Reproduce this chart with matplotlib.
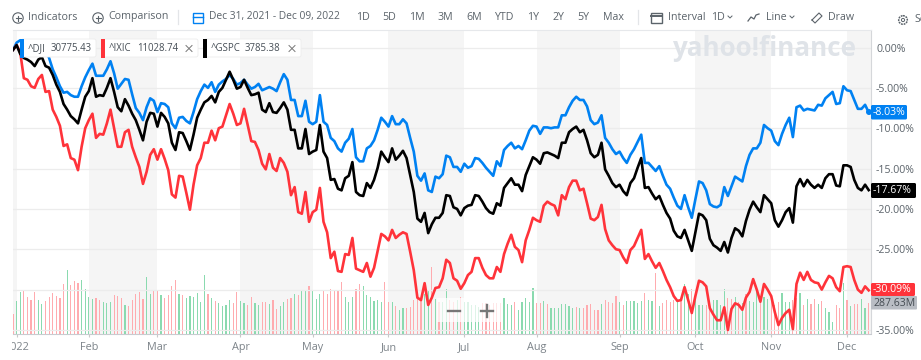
import numpy as np
import matplotlib
matplotlib.use('Agg')
import matplotlib.pyplot as plt
from matplotlib.patches import Circle, FancyBboxPatch, Rectangle

plt.rcParams['font.family'] = ['Open Sans', 'DejaVu Sans']

# percent change since Dec 31 2021, one value per trading day
dji = [-0.3, 0.6, 0.9, 0.4, 0.2, 0.1, -0.2, 0.4, 0.8, -0.1, -1.3, -2.7, -3.7, -4.8, -5.6, -5.5, -5.9, -6.1, -6.1, -4.8,
       -3.7, -2.8, -2.0, -3.5, -3.5, -3.5, -2.7, -1.7, -3.2, -5.1, -4.5, -3.9, -4.0, -5.8, -7.5, -8.1, -9.0, -7.4, -6.3, -6.6,
       -8.0, -6.9, -7.0, -7.4, -9.4, -10.0, -8.7, -8.6, -9.1, -9.4, -8.0, -6.4, -5.4, -4.6, -5.0, -4.3, -5.5, -4.6, -4.2, -3.9,
       -3.4, -3.9, -4.6, -4.4, -4.0, -4.6, -5.1, -4.9, -4.5, -5.3, -5.1, -4.9, -5.1, -5.4, -4.3, -3.3, -4.0, -6.5, -6.5, -8.5,
       -8.5, -6.6, -9.2, -9.5, -9.2, -5.9, -9.2, -9.6, -11.2, -11.6, -12.5, -12.9, -11.8, -11.3, -10.1, -13.6, -14.1, -14.1, -12.5, -12.2,
       -11.5, -10.2, -8.7, -9.2, -9.8, -8.5, -9.5, -9.5, -8.9, -9.4, -11.2, -12.9, -15.9, -16.5, -15.6, -17.7, -17.9, -16.0, -16.2, -15.7,
       -13.4, -13.6, -14.8, -14.8, -15.4, -14.4, -14.9, -14.7, -13.7, -13.8, -14.3, -14.9, -15.4, -15.9, -14.1, -14.7, -12.7, -12.2, -11.8, -12.5,
       -12.2, -12.6, -11.5, -10.3, -9.7, -9.8, -10.7, -9.9, -9.9, -10.0, -9.9, -9.9, -8.4, -8.4, -7.4, -6.6, -6.1, -6.5, -6.5, -7.3,
       -9.0, -9.5, -9.3, -8.4, -11.2, -11.8, -12.6, -13.2, -12.9, -13.7, -14.3, -13.3, -12.6, -11.7, -10.8, -14.3, -14.3, -14.8, -15.3, -14.7,
       -15.9, -17.0, -17.5, -18.6, -19.6, -20.0, -18.3, -19.8, -21.1, -18.8, -16.6, -16.8, -17.7, -19.4, -19.7, -19.8, -19.5, -17.3, -18.4, -17.2,
       -16.0, -16.3, -16.6, -14.7, -13.3, -12.5, -12.5, -11.8, -9.6, -10.0, -10.3, -11.6, -12.1, -10.7, -9.6, -8.7, -11.1, -7.4, -7.2, -7.8,
       -7.6, -7.7, -7.8, -7.1, -7.2, -6.3, -5.9, -5.5, -7.0, -6.9, -4.8, -5.3, -5.4, -6.5, -7.6, -7.6, -7.1, -8.03]

ixic = [-0.3, 0.3, -0.6, -3.8, -4.0, -4.8, -5.0, -3.9, -3.4, -5.5, -5.4, -7.7, -8.6, -9.7, -12.2, -12.0, -13.7, -13.9, -15.2, -12.3,
        -10.0, -9.0, -8.2, -11.2, -10.7, -10.8, -9.4, -7.7, -10.0, -12.3, -12.3, -10.5, -10.2, -12.3, -13.6, -14.8, -16.9, -15.4, -13.3, -12.6,
        -13.9, -12.6, -13.8, -15.2, -18.2, -18.6, -15.9, -16.0, -18.0, -20.1, -17.0, -14.6, -13.7, -11.8, -11.8, -10.3, -11.5, -10.0, -9.8, -8.4,
        -7.0, -8.2, -9.6, -9.4, -7.6, -9.6, -11.6, -11.7, -12.7, -14.4, -15.1, -13.2, -14.9, -15.3, -13.7, -14.3, -15.4, -18.3, -17.3, -20.4,
        -20.6, -17.9, -21.6, -20.4, -20.1, -17.4, -21.6, -22.9, -26.1, -25.3, -27.7, -27.8, -25.6, -25.7, -23.6, -27.4, -27.6, -27.8, -26.7, -28.4,
        -27.3, -25.2, -23.1, -23.4, -23.9, -22.6, -23.6, -23.2, -22.9, -23.1, -25.3, -27.6, -31.0, -31.3, -29.2, -31.9, -31.0, -29.8, -29.7, -28.6,
        -26.3, -26.7, -28.6, -28.9, -29.9, -29.2, -28.2, -27.8, -26.1, -26.1, -27.3, -28.2, -28.6, -28.6, -27.2, -27.8, -25.6, -24.3, -23.2, -24.7,
        -25.1, -26.6, -23.9, -22.6, -21.1, -21.4, -21.6, -19.6, -19.1, -19.4, -19.6, -20.8, -18.3, -18.8, -17.3, -16.5, -16.5, -17.7, -17.5, -19.3,
        -21.2, -21.4, -21.0, -19.5, -22.5, -23.9, -24.5, -25.0, -25.1, -26.0, -26.7, -25.1, -24.6, -23.6, -22.6, -26.2, -25.6, -26.5, -27.3, -26.7,
        -27.7, -28.8, -29.7, -30.8, -31.4, -31.3, -29.7, -31.3, -32.9, -30.8, -28.9, -29.1, -29.6, -32.3, -33.1, -33.8, -33.8, -32.2, -35.0, -32.4,
        -31.7, -31.9, -32.5, -31.0, -30.3, -28.7, -30.0, -31.5, -29.3, -30.0, -30.8, -32.8, -34.4, -33.5, -32.9, -32.5, -34.9, -29.3, -27.9, -28.8,
        -27.8, -28.8, -29.1, -29.2, -30.0, -29.1, -28.3, -28.6, -29.7, -30.2, -27.2, -27.1, -27.2, -28.8, -30.0, -30.4, -29.6, -30.09]

gspc = [-0.3, 0.3, -0.8, -1.3, -1.5, -1.8, -2.3, -1.5, -1.2, -2.3, -2.5, -3.4, -4.6, -5.5, -7.0, -7.7, -8.5, -8.9, -9.4, -7.7,
        -6.1, -5.4, -3.8, -6.1, -5.9, -6.0, -5.0, -3.8, -5.5, -7.4, -7.9, -6.4, -7.2, -8.2, -9.0, -10.2, -11.5, -9.2, -8.1, -8.2,
        -9.8, -8.1, -8.6, -9.4, -11.8, -12.7, -10.5, -10.6, -11.6, -12.7, -10.8, -8.7, -7.7, -6.8, -6.5, -6.0, -6.8, -5.5, -5.0, -4.0,
        -3.0, -4.0, -5.1, -4.9, -4.0, -5.0, -5.9, -5.8, -5.6, -7.7, -8.0, -6.9, -8.0, -8.1, -7.5, -6.8, -7.7, -10.2, -10.2, -12.5,
        -12.5, -10.1, -13.2, -12.9, -12.7, -9.6, -12.9, -13.7, -16.4, -16.3, -17.5, -17.7, -16.2, -15.9, -14.2, -17.9, -18.3, -18.4, -16.8, -17.4,
        -16.4, -14.9, -12.9, -13.6, -14.2, -12.5, -13.9, -13.4, -12.8, -13.7, -15.8, -17.9, -21.2, -21.6, -20.5, -23.0, -21.9, -21.1, -21.1, -20.5,
        -18.3, -18.4, -19.8, -20.0, -20.8, -19.9, -19.6, -19.5, -18.3, -18.4, -19.1, -19.9, -20.4, -20.6, -19.3, -19.6, -17.4, -16.8, -16.2, -17.0,
        -17.0, -17.8, -15.8, -14.7, -13.6, -13.9, -14.4, -13.1, -13.0, -13.2, -13.4, -13.7, -11.8, -11.8, -10.5, -10.1, -9.8, -10.5, -10.2, -11.5,
        -13.1, -13.6, -13.3, -11.8, -15.1, -15.9, -16.8, -17.3, -17.0, -17.8, -18.3, -16.8, -16.2, -14.9, -13.7, -17.4, -17.3, -18.1, -18.8, -18.4,
        -19.5, -20.5, -21.2, -22.7, -23.4, -23.6, -22.6, -23.9, -25.2, -22.9, -20.6, -20.8, -21.4, -23.7, -24.5, -24.8, -25.2, -24.1, -25.4, -23.6,
        -22.4, -22.7, -23.4, -21.5, -20.1, -19.1, -19.8, -20.4, -18.3, -18.8, -19.3, -21.4, -22.2, -21.4, -20.4, -19.9, -21.7, -17.2, -16.3, -17.2,
        -16.4, -17.0, -17.4, -17.0, -17.4, -16.2, -15.7, -15.7, -17.1, -17.2, -14.6, -14.6, -14.8, -16.4, -17.4, -17.7, -17.0, -17.67]

# volume in millions
volume = [188, 308, 389, 414, 345, 320, 389, 320, 276, 308, 345, 383, 355, 333, 471, 603, 458, 496, 477, 509,
          421, 345, 323, 336, 317, 295, 286, 301, 367, 358, 333, 270, 264, 317, 377, 389, 330, 534, 377, 399,
          399, 361, 333, 367, 446, 502, 377, 361, 333, 352, 345, 383, 301, 556, 371, 333, 308, 292, 257, 270,
          314, 286, 393, 308, 283, 270, 345, 283, 270, 301, 301, 276, 314, 232, 264, 301, 330, 336, 377, 361,
          408, 399, 452, 408, 327, 371, 408, 377, 421, 402, 414, 490, 345, 295, 345, 421, 465, 446, 361, 345,
          308, 317, 295, 484, 301, 301, 264, 226, 239, 239, 254, 320, 330, 330, 377, 408, 628, 330, 298, 298,
          421, 314, 298, 314, 345, 298, 298, 267, 267, 251, 283, 283, 267, 283, 283, 283, 339, 276, 270, 295,
          226, 295, 333, 295, 433, 289, 289, 308, 276, 239, 245, 245, 276, 276, 264, 245, 251, 245, 245, 270,
          276, 226, 226, 276, 314, 295, 283, 352, 301, 270, 308, 308, 308, 289, 308, 383, 320, 308, 571, 264,
          289, 314, 301, 314, 308, 330, 471, 371, 424, 345, 270, 270, 270, 251, 314, 320, 267, 421, 339, 327,
          345, 301, 289, 377, 308, 301, 393, 352, 345, 330, 330, 267, 298, 383, 301, 301, 314, 333, 383, 267,
          330, 276, 330, 276, 308, 245, 204, 110, 270, 245, 477, 320, 257, 276, 276, 323, 245, 288]

# r = down day, g = up day
vol_dir = ('rggrrrrggrrrrrrgrrrg' 'gggrrgggrrrgrrrrrggr' 'rgrrrrgrggggggrgrggg' 'grrggrrggrrgrrggrrgr'
           'ggrgggrrrrrrgggrrggg' 'gggrrgrggrrrrrggrgrg' 'grrgrgggggrrrrrrgggr' 'gggggrrgrgggggggrgrr'
           'rrrgrrrrgrgggggrggrg' 'rrrrgrggrgggrrggggrr' 'grgrgggrggrrrgggrrgr' 'grrgrgggrrgrgrrggr')

month_days = [1, 21, 40, 63, 83, 104, 125, 145, 168, 189, 210, 231]
month_labels = ['2022', 'Feb', 'Mar', 'Apr', 'May', 'Jun', 'Jul', 'Aug', 'Sep', 'Oct', 'Nov', 'Dec']
y_ticks = [0, -5, -10, -15, -20, -25, -30, -35]

BLUE = '#0081f2'
RED = '#ff333a'
GREY = '#5b636a'
W, H = 921, 360

days = np.arange(len(gspc))
fig = plt.figure(figsize=(W / 100, H / 100), dpi=100)
rect = [12.5 / W, 1 - 333.5 / H, 858 / W, 303.5 / H]

# three layers on the same rectangle: shading, volume, price lines
bg = fig.add_axes(rect, zorder=0)
bg.set_xlim(-0.14, 237.5)
bg.axis('off')
bg.axvspan(-0.14, 1, color='#f5f5f5', lw=0)
for a, b in [(21, 40), (63, 83), (104, 125), (145, 168), (189, 210), (231, 237.5)]:
    bg.axvspan(a, b, color='#f5f5f5', lw=0)

vax = fig.add_axes(rect, zorder=1)
vax.set_xlim(-0.14, 237.5)
vax.set_ylim(0, 303.5 * 9.43)
vax.axis('off')
colors = ['#ffabaf' if c == 'r' else '#8adaaf' for c in vol_dir]
vax.bar(days, volume, width=0.33, color=colors)

ax = fig.add_axes(rect, zorder=2)
ax.patch.set_visible(False)
ax.set_xlim(-0.14, 237.5)
ax.set_ylim(-35.44, 2.17)
ax.set_yticks(y_ticks)
ax.grid(axis='y', color='#ececec', lw=0.9)
ax.set_axisbelow(True)
ax.yaxis.tick_right()
ax.set_yticklabels(['%.2f%%' % v for v in y_ticks], color=GREY, fontsize=7.6)
ax.tick_params(axis='y', length=0, pad=4)
ax.set_xticks(month_days)
ax.set_xticklabels(month_labels, color='#7c8389', fontsize=7.8)
ax.tick_params(axis='x', length=2, color='#c8c8c8', pad=4)
ax.spines['left'].set_visible(False)
ax.spines['top'].set_color('#e6e8eb')
ax.spines['right'].set_color('#d5d7da')
ax.spines['bottom'].set_color('#c8cbd0')

ax.plot(days, dji, color=BLUE, lw=1.9, zorder=4)
ax.plot(days, ixic, color=RED, lw=1.9, zorder=5)
ax.plot(days, gspc, color='black', lw=1.9, zorder=6)

# everything around the plot, in pixel coordinates
ov = fig.add_axes([0, 0, 1, 1], zorder=10)
ov.set_xlim(0, W)
ov.set_ylim(H, 0)
ov.axis('off')
ov.add_patch(Rectangle((0, 0), 11.5, H, color='white', lw=0))

def txt(x, y, s, size=7.7, color=GREY, ha='left', **kw):
    ov.text(x, y, s, fontsize=size, color=color, ha=ha, va='center', **kw)

# toolbar
for cx in [18, 98]:
    ov.add_patch(Circle((cx, 18), 5.2, fill=False, ec=GREY, lw=0.8))
    ov.plot([cx - 2.5, cx + 2.5], [18, 18], color=GREY, lw=0.8)
    ov.plot([cx, cx], [15.5, 20.5], color=GREY, lw=0.8)
txt(28, 17, 'Indicators')
txt(108, 17, 'Comparison')
ov.plot([178, 178], [10, 24], color='#e3e5e8', lw=0.9)
ov.add_patch(Rectangle((193, 13), 10, 9.5, fill=False, ec=BLUE, lw=1))
ov.plot([193, 203], [16.5, 16.5], color=BLUE, lw=1)
txt(209, 17, 'Dec 31, 2021 - Dec 09, 2022', size=7.4)
for x, s in [(356, '1D'), (382, '5D'), (409, '1M'), (437, '3M'), (466, '6M'), (494, 'YTD'),
             (527, '1Y'), (552, '2Y'), (577, '5Y'), (603, 'Max')]:
    txt(x, 17, s)
ov.plot([638, 638], [10, 24], color='#e3e5e8', lw=0.9)
ov.add_patch(Rectangle((651, 13), 11, 9.5, fill=False, ec=GREY, lw=1))
ov.plot([651, 662], [15.5, 15.5], color=GREY, lw=1.4)
txt(668, 17, 'Interval')
txt(711, 17, '1D')
txt(766, 17, 'Line')
txt(828, 17, 'Draw')
for cx in [730, 792]:
    ov.plot([cx - 2, cx, cx + 2], [16, 18, 16], color=GREY, lw=0.7)
ov.plot([748, 751, 754, 756, 759], [21, 17, 19, 15, 14], color=GREY, lw=0.9)
ov.plot([812, 819, 822, 815, 812], [20, 13, 16, 23, 20], color=GREY, lw=0.8)
ov.add_patch(Circle((903, 20), 4.3, fill=False, ec=GREY, lw=1.1, ls=(0, (1.2, 0.6))))
ov.add_patch(Circle((903, 20), 1.6, fill=False, ec=GREY, lw=0.7))
txt(914, 20, 'Se')

# watermark
txt(672, 49, 'yahoo!finance', size=18.7, color='#dfe3e8', fontweight='bold')

# series chips
for x0, x1, c, name, vx, val in [(20, 97, BLUE, '^DJI', 51, '30775.43'), (101, 199, RED, '^IXIC', 137, '11028.74'),
                                 (203, 302, 'black', '^GSPC', 245, '3785.38')]:
    ov.add_patch(FancyBboxPatch((x0 + 1, 39), x1 - x0 - 2, 18, boxstyle='round,pad=0,rounding_size=2',
                                fc='white', ec='#ececec', lw=0.6))
    ov.add_patch(Rectangle((x0, 38.5), 3.6, 19.5, color=c, lw=0))
    txt(x0 + 8, 48.5, name, size=6.9, color='#464e56')
    txt(vx, 48.5, val, size=6.9, color='#464e56')
    if name != '^DJI':
        ov.plot([x1 - 13, x1 - 7], [45.5, 51.5], color='#777', lw=0.7)
        ov.plot([x1 - 13, x1 - 7], [51.5, 45.5], color='#777', lw=0.7)

# last value flags
ov.add_patch(Circle((869, 112), 3, color=BLUE, lw=0))
ov.add_patch(FancyBboxPatch((871, 105), 36, 14.5, boxstyle='round,pad=0,rounding_size=1.5', fc=BLUE, ec='none'))
txt(873, 112.5, '-8.03%', size=7.6, color='white')
ov.add_patch(FancyBboxPatch((871, 183), 45, 15, boxstyle='round,pad=0,rounding_size=1.5', fc='black', ec='none'))
txt(873, 190.5, '-17.67%', size=7.6, color='white')
ov.add_patch(FancyBboxPatch((871, 283), 44, 13, boxstyle='round,pad=0,rounding_size=1.5', fc=RED, ec='none'))
txt(873, 290, '-30.09%', size=7.6, color='white')
ov.add_patch(FancyBboxPatch((871, 296), 46, 13.5, boxstyle='round,pad=0,rounding_size=1', fc='#b9bdc4', ec='none'))
txt(873, 303, '287.63M', size=7.6, color='#444b52')

# zoom control
ov.add_patch(Rectangle((437, 298), 66, 24, color='white', alpha=0.72, lw=0))
ov.plot([448, 460], [310.5, 310.5], color='#777', lw=1.7)
ov.plot([480.5, 492.5], [311, 311], color='#777', lw=1.7)
ov.plot([486.5, 486.5], [305, 317], color='#777', lw=1.7)

fig.savefig('out.png', dpi=100)
